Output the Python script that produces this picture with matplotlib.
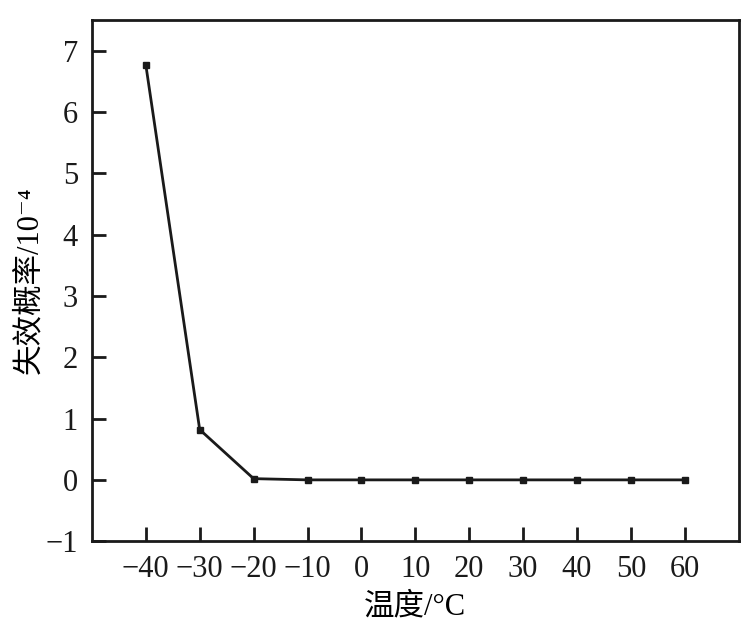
import matplotlib
matplotlib.use("Agg")
import matplotlib.pyplot as plt

plt.rcParams['font.family'] = ['Liberation Serif', 'Noto Sans CJK SC', 'DejaVu Serif']

# temperature (°C) vs failure probability (1e-4)
temps = [-40, -30, -20, -10, 0, 10, 20, 30, 40, 50, 60]
fail_prob = [6.77, 0.82, 0.02, 0, 0, 0, 0, 0, 0, 0, 0]
yticks = [-1, 0, 1, 2, 3, 4, 5, 6, 7]

fig = plt.figure(figsize=(7.41, 6.42), dpi=100)
ax = fig.add_axes([0.124, 0.157, 0.873, 0.812])

ax.plot(temps, fail_prob, color='#1a1a1a', linewidth=2, marker='s', markersize=5)

ax.set_xlim(-50, 70)
ax.set_ylim(-1, 7.5)
ax.set_xticks(temps)
ax.set_yticks(yticks)
ax.tick_params(direction='in', length=10, width=2, labelsize=22, pad=10, colors='#1a1a1a')
for s in ax.spines.values():
    s.set_linewidth(2)
    s.set_color('#1a1a1a')

ax.set_xlabel('温度/°C', fontsize=22, labelpad=6)
ax.set_ylabel('失效概率/10\u207b\u2074', fontsize=22, labelpad=1)

fig.savefig('out.png', dpi=100)
